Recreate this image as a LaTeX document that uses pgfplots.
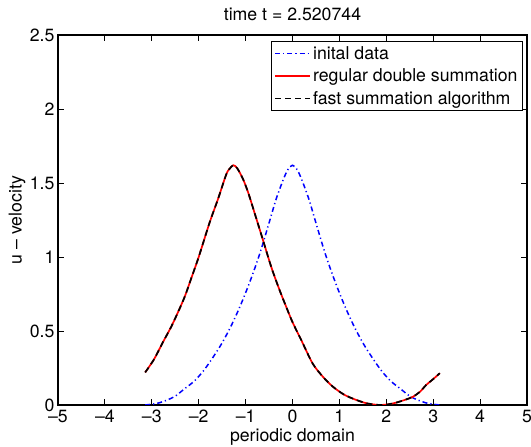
\documentclass[border=0pt]{standalone}
\usepackage{fontspec}
\setmainfont{TeX Gyre Heros}
\usepackage{pgfplots}
\usepackage{pgfplotstable}
\pgfplotsset{compat=1.18}
\usetikzlibrary{calc}
\newcommand\fsz{\fontsize{17.7bp}{21bp}\selectfont}

% initial data (symmetric about 0)
\pgfplotstableread{
x y
-3.1416 0.000
-2.9 0.010
-2.7 0.030
-2.5 0.060
-2.3 0.110
-2.1 0.160
-1.9 0.230
-1.7 0.320
-1.5 0.420
-1.3 0.540
-1.1 0.680
-0.9 0.840
-0.7 1.020
-0.5 1.230
-0.35 1.390
-0.2 1.520
-0.1 1.590
0.0 1.620
0.1 1.590
0.2 1.520
0.35 1.390
0.5 1.230
0.7 1.020
0.9 0.840
1.1 0.680
1.3 0.540
1.5 0.420
1.7 0.320
1.9 0.230
2.1 0.160
2.3 0.110
2.5 0.060
2.7 0.030
2.9 0.010
3.1416 0.000
}\inittab

% solution at t = 2.520744 (both summation methods agree)
\pgfplotstableread{
x y
-3.1416 0.220
-2.95 0.310
-2.77 0.420
-2.6 0.520
-2.48 0.600
-2.30 0.730
-2.16 0.855
-2.0 1.000
-1.77 1.230
-1.59 1.390
-1.41 1.560
-1.33 1.600
-1.26 1.620
-1.18 1.600
-1.06 1.530
-0.95 1.440
-0.85 1.340
-0.63 1.115
-0.45 0.930
-0.28 0.780
-0.13 0.660
0.0 0.560
0.2 0.430
0.43 0.280
0.65 0.190
0.86 0.124
1.1 0.070
1.36 0.034
1.6 0.010
1.86 0.000
2.05 0.005
2.21 0.016
2.4 0.035
2.57 0.056
2.72 0.090
2.85 0.135
3.0 0.175
3.1416 0.215
}\soltab

\begin{document}
\begin{tikzpicture}
\begin{axis}[name=ax,
  scale only axis, width=469bp, height=370bp,
  xmin=-5, xmax=5, ymin=0, ymax=2.5,
  xtick={-5,...,5},
  xticklabels={\textendash5,\textendash4,\textendash3,\textendash2,\textendash1,0,1,2,3,4,5},
  ytick={0,0.5,1,1.5,2,2.5},
  yticklabels={0,0.5,1,1.5,2,2.5},
  tick align=inside, major tick length=6bp,
  axis line style={black, line width=1.2bp},
  tick style={black, line width=0.9bp},
  tick label style={font=\fsz},
  xticklabel style={yshift=-1.5bp},
  label style={font=\fsz},
  title style={font=\fsz},
  title={time t = 2.520744},
  title style={at={(axis description cs:0.5,1.0405)}, anchor=center},
  xlabel={periodic domain},
  xlabel style={at={(axis description cs:0.5,-0.0865)}, anchor=center},
  ylabel={u \textendash\ velocity},
  ylabel style={at={(axis description cs:-0.0874,0.5)}, anchor=center},
  legend style={font=\fsz, at={(1,1)}, xshift=-4bp, yshift=-6.5bp, anchor=north east,
    draw=black, line width=0.9bp, fill=white, inner xsep=3bp, inner ysep=2.5bp,
    row sep=4bp,
    cells={anchor=west, inner xsep=2.5bp, inner ysep=1bp}},
  legend image code/.code={\draw[#1, line width=1.7bp] (0bp,0bp) -- (35bp,0bp);},
]
\addplot[blue, line width=1.5bp, smooth, tension=0.5,
  dash pattern=on 5bp off 3bp on 1.2bp off 3bp] table {\inittab};
\addlegendentry{inital data}
\addplot[red, line width=1.7bp, smooth, tension=0.5] table {\soltab};
\addlegendentry{regular double summation}
\addplot[black, line width=1.7bp, smooth, tension=0.5,
  dash pattern=on 6bp off 4bp] table {\soltab};
\addlegendentry{fast summation algorithm}
\end{axis}
\pgfresetboundingbox
\path ($(ax.south west)+(-58bp,-42bp)$) rectangle ($(ax.north east)+(4bp,35bp)$);
\end{tikzpicture}
\end{document}
